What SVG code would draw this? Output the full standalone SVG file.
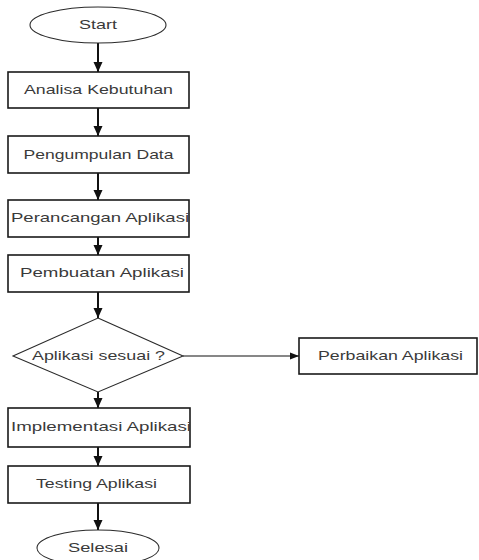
<svg xmlns="http://www.w3.org/2000/svg" width="479" height="560" viewBox="0 0 479 560">
  <style>
    .shape { fill: #ffffff; stroke: #1a1a1a; stroke-width: 1.6; }
    .shape-thin { fill: #ffffff; stroke: #2a2a2a; stroke-width: 1.1; }
    .label { font-family: "Liberation Sans", Arial, sans-serif; font-size: 13.5px; fill: #3a3a3a; text-anchor: middle; }
    .flow { stroke: #111111; stroke-width: 2; fill: none; marker-end: url(#arrow); }
    .flow-thin { stroke: #111111; stroke-width: 1.2; fill: none; marker-end: url(#arrow-sm); }
  </style>
  <defs>
    <marker id="arrow" markerUnits="userSpaceOnUse" markerWidth="12" markerHeight="12" viewBox="0 0 12 12" refX="11" refY="6" orient="auto">
      <path d="M1,1.5 L11,6 L1,10.5 Z" fill="#111111"/>
    </marker>
    <marker id="arrow-sm" markerUnits="userSpaceOnUse" markerWidth="12" markerHeight="12" viewBox="0 0 12 12" refX="11" refY="6" orient="auto">
      <path d="M2,2.5 L11,6 L2,9.5 Z" fill="#111111"/>
    </marker>
  </defs>

  <rect width="479" height="560" fill="#ffffff"/>

  <g id="connectors">
    <line class="flow" x1="98" y1="43" x2="98" y2="72"/>
    <line class="flow" x1="98" y1="108" x2="98" y2="136"/>
    <line class="flow" x1="98" y1="173" x2="98" y2="200"/>
    <line class="flow" x1="98" y1="237" x2="98" y2="255"/>
    <line class="flow" x1="98" y1="292" x2="98" y2="318"/>
    <line class="flow" x1="98" y1="392" x2="98" y2="408"/>
    <line class="flow" x1="98" y1="447" x2="98" y2="466"/>
    <line class="flow" x1="98" y1="503" x2="98" y2="530"/>
    <line class="flow-thin" x1="183" y1="356" x2="299" y2="356"/>
  </g>

  <g id="start">
    <ellipse class="shape-thin" cx="98" cy="25" rx="68" ry="18"/>
    <text class="label" x="98" y="29" textLength="38" lengthAdjust="spacingAndGlyphs">Start</text>
  </g>

  <g id="analisa-kebutuhan">
    <rect class="shape" x="8" y="72" width="181" height="36"/>
    <text class="label" x="98.5" y="94" textLength="149" lengthAdjust="spacingAndGlyphs">Analisa Kebutuhan</text>
  </g>

  <g id="pengumpulan-data">
    <rect class="shape" x="8" y="136" width="181" height="37"/>
    <text class="label" x="98.5" y="159" textLength="150" lengthAdjust="spacingAndGlyphs">Pengumpulan Data</text>
  </g>

  <g id="perancangan-aplikasi">
    <rect class="shape" x="8" y="200" width="181" height="37"/>
    <text class="label" x="100" y="222" textLength="178" lengthAdjust="spacingAndGlyphs">Perancangan Aplikasi</text>
  </g>

  <g id="pembuatan-aplikasi">
    <rect class="shape" x="8" y="255" width="181" height="37"/>
    <text class="label" x="102" y="277" textLength="164" lengthAdjust="spacingAndGlyphs">Pembuatan Aplikasi</text>
  </g>

  <g id="aplikasi-sesuai">
    <polygon class="shape-thin" points="98,318 183,356 98,392 13,356"/>
    <text class="label" x="98.5" y="360" textLength="133" lengthAdjust="spacingAndGlyphs">Aplikasi sesuai ?</text>
  </g>

  <g id="perbaikan-aplikasi">
    <rect class="shape" x="299" y="338" width="178" height="36"/>
    <text class="label" x="390.5" y="360" textLength="145" lengthAdjust="spacingAndGlyphs">Perbaikan Aplikasi</text>
  </g>

  <g id="implementasi-aplikasi">
    <rect class="shape" x="8" y="408" width="182" height="39"/>
    <text class="label" x="101" y="431" textLength="180" lengthAdjust="spacingAndGlyphs">Implementasi Aplikasi</text>
  </g>

  <g id="testing-aplikasi">
    <rect class="shape" x="8" y="466" width="182" height="37"/>
    <text class="label" x="96.5" y="488" textLength="121" lengthAdjust="spacingAndGlyphs">Testing Aplikasi</text>
  </g>

  <g id="selesai">
    <ellipse class="shape-thin" cx="98" cy="548" rx="61" ry="18"/>
    <text class="label" x="98" y="552" textLength="60" lengthAdjust="spacingAndGlyphs">Selesai</text>
  </g>
</svg>
